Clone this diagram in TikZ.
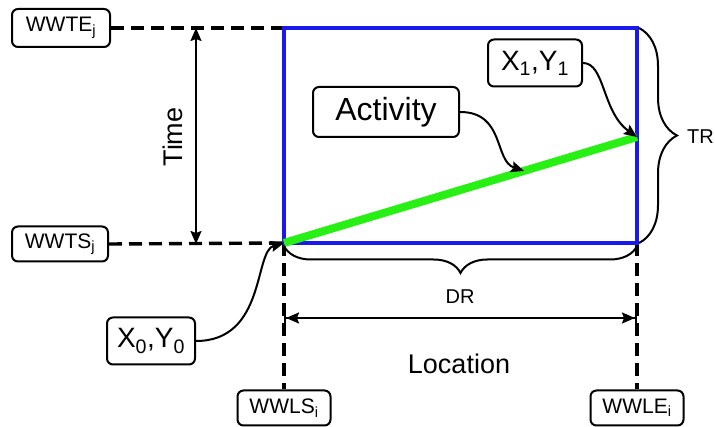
\documentclass[tikz,border=0pt]{standalone}
\usepackage{fontspec}
\setmainfont{Liberation Sans}
\usetikzlibrary{arrows.meta,decorations.pathreplacing}
\definecolor{frameblue}{RGB}{25,25,235}
\definecolor{actgreen}{RGB}{40,240,20}
\newcommand\fsz[1]{\fontsize{#1}{#1}\selectfont}

\begin{document}
\begin{tikzpicture}[x=1pt,y=-1pt,
  lbl/.style={draw, line width=2pt, rounded corners=6pt, inner sep=0pt, align=center, fill=white},
  guide/.style={line width=3.4pt, dash pattern=on 13pt off 7pt},
  conn/.style={line width=2pt, -{Stealth[length=13pt,width=11pt,inset=2pt]}},
  dimline/.style={line width=2pt},
  bracestyle/.style={line width=2pt, decorate},
]
\useasboundingbox (0,0) rectangle (715,427);

% frame corners and the activity segment
\coordinate (c00) at (284,243);
\coordinate (c10) at (637,243);
\coordinate (c01) at (284,28);
\coordinate (c11) at (637,28);
\coordinate (p0) at (284,243);
\coordinate (p1) at (637,137);
\path (p0) -- (p1) coordinate[pos=0.68] (pa);

% labelled boxes
\node[lbl, minimum width=98pt, minimum height=38pt] (wwte) at (61,28) {\fsz{21}WWTE\textsubscript{j}};
\node[lbl, minimum width=96pt, minimum height=35pt] (wwts) at (60,244) {\fsz{21}WWTS\textsubscript{j}};
\node[lbl, minimum width=88pt, minimum height=47pt] (x0) at (151,341) {\fsz{28}X\textsubscript{0},Y\textsubscript{0}};
\node[lbl, minimum width=146pt, minimum height=50pt] (act) at (386,112) {\fsz{32}Activity};
\node[lbl, minimum width=94pt, minimum height=47pt] (x1) at (535,63) {\fsz{28}X\textsubscript{1},Y\textsubscript{1}};
\node[lbl, minimum width=93pt, minimum height=35pt] (wwls) at (284,408) {\fsz{21}WWLS\textsubscript{i}};
\node[lbl, minimum width=93pt, minimum height=35pt] (wwle) at (637,408) {\fsz{21}WWLE\textsubscript{i}};

% dashed guide lines
\draw[guide] (wwte.east) -- (c01);
\draw[guide] (wwts.east) -- (c00);
\draw[guide] (c00) -- (wwls.north);
\draw[guide] (c10) -- (wwle.north);

% time-location frame and activity line
\draw[frameblue, line width=3.4pt] (c00) rectangle (c11);
\draw[actgreen, line width=8pt] (p0) -- (p1);

% braces
\coordinate (tr0) at (639,28);
\coordinate (tr1) at (639,243);
\draw[bracestyle, decoration={brace, amplitude=38pt}] (tr0) -- (tr1);
\coordinate (dr0) at (637,246);
\coordinate (dr1) at (284,246);
\draw[bracestyle, decoration={brace, amplitude=27pt}] (dr0) -- (dr1);

% time and location dimension arrows
\coordinate (tt) at (196,28);
\coordinate (tb) at (196,244);
\draw[dimline, {Stealth[length=13pt,width=11pt,inset=2pt]}-{Stealth[length=13pt,width=11pt,inset=2pt]}] (tt) -- (tb);
\coordinate (dl) at (284,318);
\coordinate (dr) at (637,318);
\draw[dimline, {Bar[width=15pt,line width=2pt]Stealth[length=13pt,width=11pt,inset=2pt]}-{Stealth[length=13pt,width=11pt,inset=2pt]Bar[width=15pt,line width=2pt]}] (dl) -- (dr);

% text labels
\node[rotate=90] (time) at (173,137) {\fsz{27}Time};
\node (loc) at (459,364) {\fsz{27}Location};
\node (drl) at (460,297) {\fsz{20}DR};
\node[anchor=east, inner sep=1pt] (trl) at (715,137) {\fsz{20}TR};

% pointer curves
\draw[conn] (x0.east) .. controls +(70,0) and +(-30,8) .. (c00);
\draw[conn] (act.east) .. controls +(45,0) and +(-30,-10) .. (pa);
\draw[conn] (x1.east) .. controls +(22,0) and +(-35,-25) .. (p1);
\end{tikzpicture}
\end{document}
